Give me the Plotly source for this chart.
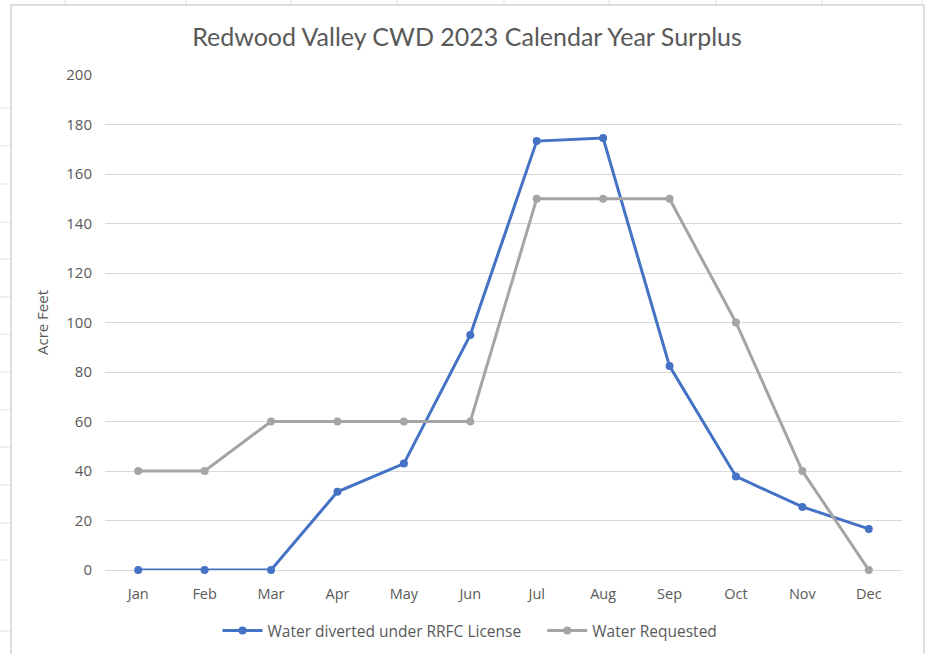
import plotly.graph_objects as go

months = ["Jan", "Feb", "Mar", "Apr", "May", "Jun", "Jul", "Aug", "Sep", "Oct", "Nov", "Dec"]
diverted = [0, 0, 0, 31.6, 43, 95, 173.3, 174.5, 82.4, 37.8, 25.5, 16.6]
requested = [40, 40, 60, 60, 60, 60, 150, 150, 150, 100, 40, 0]
y_ticks = [0, 20, 40, 60, 80, 100, 120, 140, 160, 180, 200]

W, H = 930, 654
L, R, T, B = 105, 28, 75, 84
PW, PH = W - L - R, H - T - B

def px(x):
    return (x - L) / PW

def py(y):
    return (H - B - y) / PH

fig = go.Figure()
fig.add_trace(go.Scatter(
    x=months, y=diverted, mode="lines+markers",
    name="Water diverted under RRFC License" + "\u00a0" * 4,
    line=dict(color="#4472C4", width=3), marker=dict(size=8, color="#4472C4"),
    cliponaxis=False))
fig.add_trace(go.Scatter(
    x=months, y=requested, mode="lines+markers", name="Water Requested",
    line=dict(color="#A5A5A5", width=3), marker=dict(size=8, color="#A5A5A5"),
    cliponaxis=False))

shapes = []
grid_col = "#E1E1E1"
for cx in [65, 186, 291, 397, 504, 609, 716, 822, 922]:
    shapes.append(dict(type="line", xref="paper", yref="paper", x0=px(cx), x1=px(cx),
                       y0=py(0), y1=py(5), line=dict(color=grid_col, width=1), layer="below"))
for ry in [108, 146, 184, 222, 259, 297, 334, 372, 410, 447, 485, 523, 560, 631]:
    shapes.append(dict(type="line", xref="paper", yref="paper", x0=px(0), x1=px(11),
                       y0=py(ry), y1=py(ry), line=dict(color=grid_col, width=1), layer="below"))
shapes.append(dict(type="rect", xref="paper", yref="paper", x0=px(11), x1=px(924),
                   y0=py(670), y1=py(5), line=dict(color="#D4D4D4", width=1.5),
                   fillcolor="rgba(0,0,0,0)", layer="below"))

fig.update_layout(
    width=W, height=H,
    margin=dict(l=L, r=R, t=T, b=B, autoexpand=False),
    paper_bgcolor="white", plot_bgcolor="white",
    font=dict(family="Open Sans, sans-serif", color="#595959", size=13),
    title=dict(text="Redwood Valley CWD 2023 Calendar Year Surplus", x=467 / W, xref="container",
               y=1 - 37 / H, yref="container", yanchor="middle", xanchor="center",
               font=dict(family="Lato, sans-serif", size=25, color="#595959")),
    xaxis=dict(type="category", range=[-0.5, 11.5], showgrid=False, showline=False,
               ticks="", ticklabelstandoff=13, tickfont=dict(size=14.5, color="#595959"),
               fixedrange=True),
    yaxis=dict(range=[0, 200], tickvals=y_ticks, showgrid=True, gridcolor="#D9D9D9",
               gridwidth=1, zeroline=True, zerolinecolor="#D9D9D9", zerolinewidth=1,
               showline=False, ticks="", ticklabelstandoff=12,
               tickfont=dict(size=15, color="#595959"),
               title=dict(text="Acre Feet", standoff=14, font=dict(size=15, color="#595959"))),
    legend=dict(orientation="h", x=470 / W, xref="container", xanchor="center",
                y=py(631), yanchor="middle",
                font=dict(size=15.5, color="#595959"), itemwidth=40, tracegroupgap=0),
    shapes=shapes,
    showlegend=True,
)

fig.write_html("out.html")
